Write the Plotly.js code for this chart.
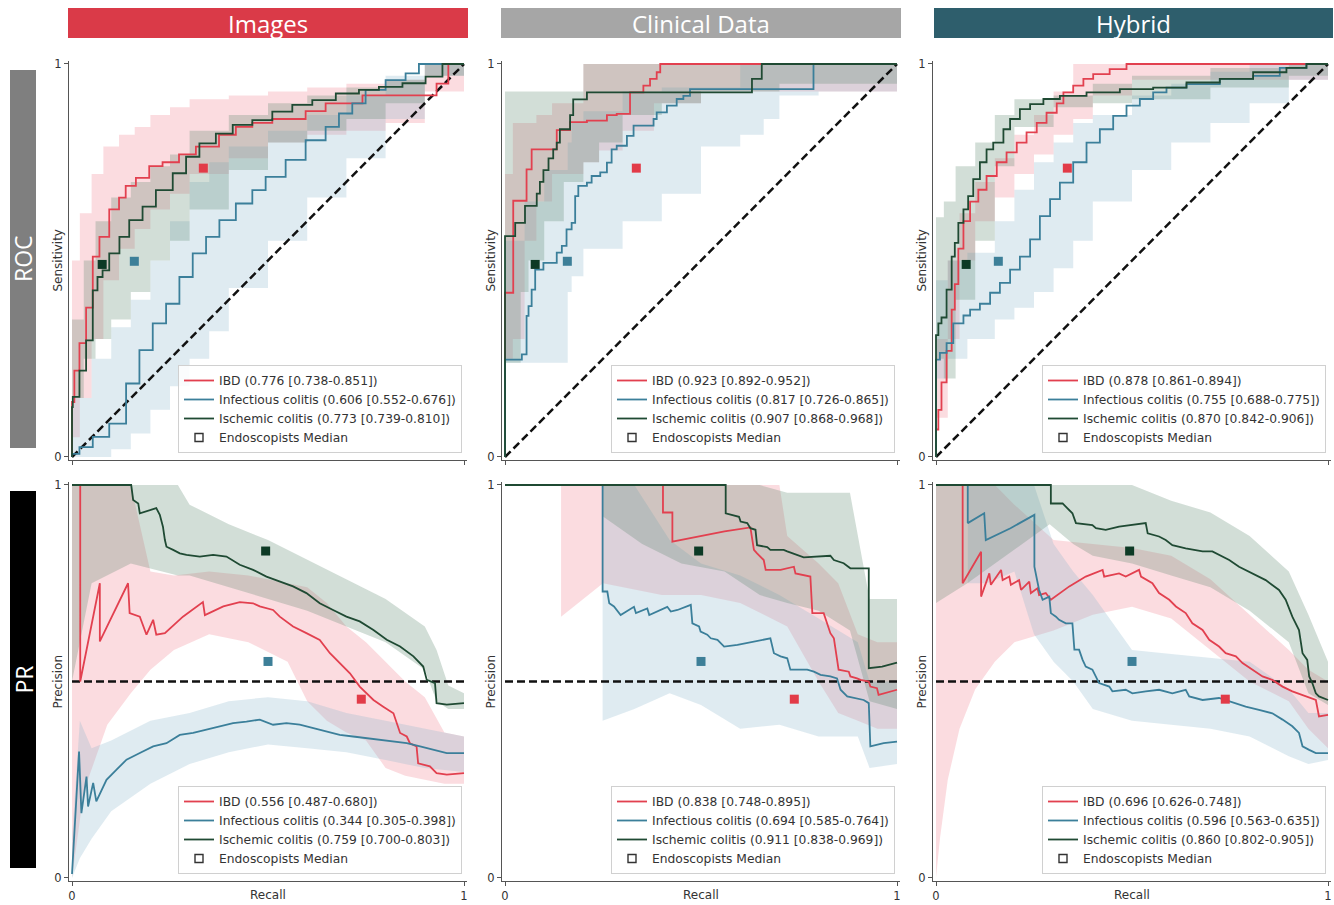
<!DOCTYPE html>
<html><head><meta charset="utf-8">
<script src="https://cdn.plot.ly/plotly-3.0.1.min.js"></script>
<style>html,body{margin:0;padding:0;background:#fff}#chart{width:1334px;height:905px}</style>
</head><body><div id="chart"></div><script>
// ---------------- DATA ----------------
const COLUMN_TITLES = ['Images', 'Clinical Data', 'Hybrid'];
const ROW_TITLES = ['ROC', 'PR'];
const CLASSES = ['IBD', 'Infectious colitis', 'Ischemic colitis'];
const ENDO_LABEL = 'Endoscopists Median';

// AUC labels per panel [IBD, Infectious, Ischemic]
const AUC_ROC_IMG = ['0.776 [0.738-0.851]', '0.606 [0.552-0.676]', '0.773 [0.739-0.810]'];
const AUC_ROC_CLI = ['0.923 [0.892-0.952]', '0.817 [0.726-0.865]', '0.907 [0.868-0.968]'];
const AUC_ROC_HYB = ['0.878 [0.861-0.894]', '0.755 [0.688-0.775]', '0.870 [0.842-0.906]'];
const AUC_PR_IMG = ['0.556 [0.487-0.680]', '0.344 [0.305-0.398]', '0.759 [0.700-0.803]'];
const AUC_PR_CLI = ['0.838 [0.748-0.895]', '0.694 [0.585-0.764]', '0.911 [0.838-0.969]'];
const AUC_PR_HYB = ['0.696 [0.626-0.748]', '0.596 [0.563-0.635]', '0.860 [0.802-0.905]'];

// Endoscopists median [IBD, Infectious, Ischemic]
const ENDO_ROC_X = [0.335, 0.159, 0.077];
const ENDO_ROC_Y = [0.735, 0.498, 0.490];
const ENDO_PR_X = [0.738, 0.500, 0.494];
const ENDO_PR_Y = [0.455, 0.551, 0.832];

// Reference lines
const ROC_CHANCE_X = [0, 1], ROC_CHANCE_Y = [0, 1];
const PR_BASE_X = [0, 1], PR_BASE_Y = [0.5, 0.5];

// ROC curves [fpr, tpr]
const ROC_IMG_IBD = [[0,0],[0.006,0.14],[0.019,0.22],[0.036,0.29],[0.053,0.38],[0.07,0.51],[0.095,0.56],[0.12,0.63],[0.137,0.66],[0.163,0.69],[0.197,0.71],[0.231,0.74],[0.273,0.75],[0.316,0.77],[0.375,0.79],[0.418,0.82],[0.46,0.84],[0.511,0.85],[0.596,0.86],[0.647,0.88],[0.741,0.90],[0.885,0.92],[0.93,0.92],[0.96,0.95],[1,1]];
const ROC_IMG_INF = [[0,0],[0.019,0.008],[0.053,0.025],[0.095,0.051],[0.138,0.085],[0.172,0.187],[0.206,0.272],[0.24,0.34],[0.274,0.39],[0.308,0.458],[0.342,0.518],[0.376,0.56],[0.418,0.603],[0.46,0.645],[0.494,0.679],[0.545,0.713],[0.596,0.756],[0.647,0.806],[0.681,0.84],[0.715,0.874],[0.749,0.90],[0.80,0.934],[0.851,0.959],[0.885,0.976],[0.919,1.0],[1,1]];
const ROC_IMG_ISC = [[0,0],[0.002,0.127],[0.019,0.153],[0.036,0.22],[0.053,0.297],[0.065,0.424],[0.078,0.458],[0.095,0.475],[0.121,0.518],[0.146,0.56],[0.18,0.603],[0.214,0.637],[0.257,0.679],[0.291,0.722],[0.325,0.764],[0.367,0.798],[0.41,0.823],[0.46,0.845],[0.511,0.857],[0.562,0.879],[0.613,0.896],[0.673,0.908],[0.732,0.925],[0.783,0.934],[0.843,0.942],[0.902,0.951],[0.945,0.968],[1,1]];

const ROC_CLI_IBD = [[0,0],[0.021,0.418],[0.055,0.652],[0.068,0.732],[0.132,0.783],[0.166,0.832],[0.209,0.852],[0.26,0.856],[0.285,0.87],[0.319,0.873],[0.353,0.928],[0.37,0.945],[0.387,0.962],[0.396,0.979],[1,1]];
const ROC_CLI_INF = [[0,0],[0.043,0.248],[0.055,0.261],[0.06,0.359],[0.068,0.384],[0.077,0.426],[0.098,0.477],[0.132,0.494],[0.145,0.52],[0.157,0.537],[0.17,0.579],[0.179,0.596],[0.187,0.664],[0.209,0.69],[0.221,0.698],[0.243,0.715],[0.26,0.724],[0.272,0.749],[0.285,0.783],[0.311,0.792],[0.328,0.817],[0.379,0.843],[0.387,0.86],[0.413,0.877],[0.438,0.894],[0.455,0.911],[0.472,0.919],[0.787,0.936],[1,1]];
const ROC_CLI_ISC = [[0,0],[0.026,0.562],[0.051,0.596],[0.081,0.639],[0.089,0.67],[0.098,0.70],[0.111,0.73],[0.123,0.76],[0.132,0.783],[0.14,0.80],[0.166,0.834],[0.174,0.87],[0.209,0.91],[0.63,0.928],[0.655,0.962],[1,1]];

const ROC_HYB_IBD = [[0,0],[0.006,0.07],[0.014,0.12],[0.027,0.19],[0.04,0.27],[0.048,0.375],[0.057,0.44],[0.07,0.53],[0.087,0.60],[0.108,0.65],[0.129,0.68],[0.155,0.715],[0.18,0.75],[0.206,0.775],[0.231,0.80],[0.257,0.826],[0.282,0.85],[0.308,0.876],[0.325,0.90],[0.35,0.928],[0.376,0.945],[0.401,0.962],[0.443,0.974],[0.486,0.987],[0.503,1],[1,1]];
const ROC_HYB_INF = [[0,0],[0.01,0.248],[0.027,0.265],[0.044,0.29],[0.07,0.34],[0.087,0.36],[0.112,0.375],[0.138,0.39],[0.163,0.418],[0.189,0.443],[0.214,0.477],[0.24,0.51],[0.265,0.554],[0.291,0.613],[0.316,0.656],[0.35,0.698],[0.384,0.75],[0.418,0.80],[0.452,0.834],[0.486,0.868],[0.52,0.894],[0.554,0.911],[0.588,0.928],[0.639,0.94],[0.724,0.949],[0.809,0.962],[0.877,0.97],[0.945,0.99],[1,1]];
const ROC_HYB_ISC = [[0,0],[0.006,0.31],[0.014,0.34],[0.027,0.355],[0.04,0.426],[0.048,0.51],[0.057,0.545],[0.07,0.596],[0.082,0.63],[0.095,0.664],[0.112,0.707],[0.129,0.75],[0.146,0.783],[0.172,0.80],[0.189,0.834],[0.214,0.86],[0.24,0.885],[0.274,0.898],[0.316,0.911],[0.384,0.919],[0.469,0.928],[0.554,0.936],[0.639,0.94],[0.724,0.953],[0.809,0.962],[0.894,0.979],[0.945,0.99],[1,1]];

// PR curves [recall, precision]
const PR_IMG_IBD = [[0,1],[0.021,1],[0.021,0.5],[0.071,0.75],[0.071,0.602],[0.143,0.75],[0.147,0.674],[0.173,0.665],[0.19,0.619],[0.207,0.657],[0.215,0.619],[0.237,0.623],[0.283,0.665],[0.334,0.702],[0.339,0.669],[0.386,0.691],[0.428,0.702],[0.462,0.699],[0.479,0.691],[0.513,0.682],[0.53,0.665],[0.564,0.64],[0.598,0.623],[0.632,0.606],[0.658,0.572],[0.683,0.547],[0.709,0.521],[0.734,0.487],[0.751,0.47],[0.769,0.453],[0.794,0.436],[0.82,0.419],[0.837,0.369],[0.854,0.36],[0.862,0.343],[0.879,0.335],[0.883,0.292],[0.913,0.284],[0.93,0.267],[0.956,0.263],[1,0.267]];
const PR_IMG_INF = [[0,0.01],[0.018,0.322],[0.024,0.165],[0.037,0.258],[0.041,0.182],[0.054,0.242],[0.062,0.195],[0.088,0.25],[0.113,0.275],[0.139,0.301],[0.173,0.318],[0.207,0.335],[0.241,0.343],[0.275,0.364],[0.309,0.369],[0.343,0.377],[0.377,0.386],[0.411,0.394],[0.445,0.398],[0.479,0.403],[0.513,0.39],[0.547,0.394],[0.581,0.39],[0.615,0.381],[0.649,0.373],[0.683,0.364],[0.717,0.36],[0.751,0.356],[0.786,0.352],[0.82,0.347],[0.854,0.343],[0.888,0.335],[0.922,0.326],[0.956,0.318],[1,0.318]];
const PR_IMG_ISC = [[0,1],[0.151,1],[0.156,0.962],[0.169,0.953],[0.173,0.928],[0.215,0.941],[0.224,0.924],[0.232,0.894],[0.237,0.86],[0.241,0.843],[0.258,0.835],[0.275,0.826],[0.292,0.822],[0.326,0.818],[0.36,0.822],[0.394,0.818],[0.428,0.797],[0.462,0.784],[0.496,0.767],[0.53,0.754],[0.564,0.742],[0.598,0.725],[0.632,0.699],[0.666,0.682],[0.70,0.665],[0.734,0.653],[0.769,0.631],[0.803,0.606],[0.837,0.589],[0.871,0.564],[0.896,0.538],[0.905,0.504],[0.926,0.496],[0.93,0.445],[0.956,0.441],[1,0.445]];

const PR_CLI_IBD = [[0,1],[0.403,1],[0.403,0.93],[0.427,0.93],[0.427,0.856],[0.50,0.87],[0.56,0.882],[0.626,0.892],[0.635,0.835],[0.643,0.826],[0.66,0.809],[0.665,0.784],[0.703,0.784],[0.737,0.792],[0.741,0.775],[0.779,0.767],[0.784,0.674],[0.813,0.674],[0.83,0.623],[0.839,0.61],[0.851,0.53],[0.877,0.525],[0.881,0.513],[0.898,0.508],[0.907,0.504],[0.928,0.50],[0.932,0.487],[0.949,0.483],[0.953,0.466],[1,0.479]];
const PR_CLI_INF = [[0,1],[0.249,1],[0.249,0.729],[0.261,0.729],[0.266,0.699],[0.278,0.691],[0.295,0.669],[0.329,0.69],[0.334,0.674],[0.363,0.686],[0.368,0.669],[0.414,0.69],[0.423,0.678],[0.44,0.682],[0.474,0.695],[0.478,0.648],[0.495,0.64],[0.499,0.627],[0.516,0.619],[0.525,0.61],[0.542,0.606],[0.559,0.589],[0.593,0.593],[0.643,0.602],[0.677,0.61],[0.686,0.572],[0.703,0.564],[0.72,0.559],[0.728,0.53],[0.771,0.53],[0.788,0.525],[0.805,0.517],[0.83,0.513],[0.847,0.508],[0.856,0.479],[0.873,0.462],[0.915,0.453],[0.928,0.445],[0.932,0.335],[0.966,0.343],[1,0.347]];
const PR_CLI_ISC = [[0,1],[0.563,1],[0.563,0.928],[0.597,0.919],[0.601,0.907],[0.618,0.903],[0.626,0.89],[0.639,0.886],[0.643,0.847],[0.669,0.842],[0.677,0.835],[0.711,0.835],[0.72,0.831],[0.745,0.822],[0.762,0.816],[0.83,0.82],[0.839,0.809],[0.864,0.801],[0.881,0.788],[0.928,0.788],[0.928,0.534],[0.962,0.538],[1,0.548]];

const PR_HYB_IBD = [[0,1],[0.068,1],[0.068,0.75],[0.115,0.83],[0.115,0.716],[0.136,0.775],[0.14,0.746],[0.166,0.784],[0.17,0.758],[0.187,0.767],[0.191,0.746],[0.212,0.758],[0.217,0.733],[0.238,0.754],[0.242,0.725],[0.259,0.737],[0.263,0.72],[0.28,0.725],[0.293,0.708],[0.34,0.742],[0.382,0.767],[0.425,0.784],[0.429,0.767],[0.467,0.775],[0.484,0.767],[0.518,0.784],[0.523,0.767],[0.552,0.75],[0.569,0.725],[0.595,0.708],[0.612,0.691],[0.637,0.674],[0.654,0.648],[0.68,0.631],[0.697,0.606],[0.722,0.589],[0.739,0.572],[0.765,0.564],[0.782,0.547],[0.807,0.53],[0.833,0.513],[0.858,0.504],[0.884,0.487],[0.909,0.475],[0.943,0.462],[0.969,0.453],[0.977,0.411],[1,0.415]];
const PR_HYB_INF = [[0,1],[0.081,1],[0.081,0.903],[0.123,0.928],[0.127,0.86],[0.19,0.89],[0.251,0.924],[0.251,0.792],[0.263,0.733],[0.272,0.708],[0.289,0.716],[0.293,0.674],[0.306,0.665],[0.314,0.657],[0.331,0.648],[0.348,0.648],[0.353,0.581],[0.365,0.581],[0.374,0.555],[0.382,0.538],[0.399,0.53],[0.416,0.496],[0.442,0.487],[0.45,0.475],[0.484,0.479],[0.501,0.47],[0.535,0.475],[0.569,0.479],[0.603,0.47],[0.637,0.479],[0.646,0.462],[0.68,0.453],[0.722,0.458],[0.765,0.445],[0.79,0.436],[0.824,0.428],[0.858,0.419],[0.884,0.403],[0.909,0.386],[0.926,0.369],[0.935,0.335],[0.952,0.326],[0.969,0.318],[1,0.318]];
const PR_HYB_ISC = [[0,1],[0.293,1],[0.293,0.953],[0.323,0.953],[0.331,0.945],[0.348,0.928],[0.357,0.903],[0.399,0.898],[0.408,0.89],[0.433,0.886],[0.467,0.894],[0.535,0.903],[0.54,0.877],[0.569,0.869],[0.586,0.86],[0.603,0.847],[0.637,0.839],[0.68,0.831],[0.705,0.831],[0.722,0.822],[0.748,0.809],[0.773,0.792],[0.807,0.775],[0.841,0.758],[0.875,0.733],[0.892,0.708],[0.909,0.665],[0.926,0.631],[0.935,0.572],[0.947,0.555],[0.952,0.513],[0.96,0.496],[0.969,0.47],[0.977,0.462],[1,0.453]];

// Confidence bands [x, lower, upper]
const ROC_IMG_IBD_BAND = [[0,0,0.35],[0.02,0.05,0.5],[0.05,0.15,0.62],[0.08,0.3,0.72],[0.12,0.45,0.79],[0.16,0.53,0.82],[0.2,0.58,0.84],[0.25,0.63,0.87],[0.3,0.67,0.89],[0.4,0.72,0.91],[0.5,0.76,0.92],[0.6,0.8,0.93],[0.7,0.82,0.94],[0.8,0.83,0.95],[0.9,0.85,0.96],[1,0.93,1]];
const ROC_IMG_INF_BAND = [[0,0,0.05],[0.05,0,0.15],[0.1,0,0.25],[0.15,0.02,0.33],[0.2,0.06,0.4],[0.25,0.12,0.5],[0.3,0.18,0.6],[0.35,0.25,0.7],[0.4,0.32,0.75],[0.5,0.43,0.79],[0.6,0.55,0.83],[0.7,0.66,0.87],[0.8,0.76,0.92],[0.9,0.86,0.97],[1,0.97,1]];
const ROC_IMG_ISC_BAND = [[0,0.05,0.2],[0.03,0.15,0.35],[0.06,0.25,0.5],[0.1,0.3,0.6],[0.15,0.35,0.66],[0.2,0.42,0.7],[0.25,0.5,0.74],[0.3,0.55,0.77],[0.4,0.63,0.83],[0.5,0.73,0.87],[0.6,0.8,0.9],[0.7,0.83,0.92],[0.8,0.86,0.94],[0.9,0.9,0.96],[1,0.97,1]];

const ROC_CLI_IBD_BAND = [[0,0.15,0.55],[0.02,0.25,0.72],[0.05,0.3,0.85],[0.08,0.55,0.85],[0.12,0.65,0.87],[0.2,0.72,0.9],[0.24,0.75,1],[0.3,0.78,1],[0.38,0.83,1],[0.5,0.9,1],[0.65,0.93,1],[1,0.93,1]];
const ROC_CLI_INF_BAND = [[0,0.24,0.3],[0.05,0.24,0.55],[0.1,0.24,0.65],[0.16,0.24,0.73],[0.17,0.42,0.8],[0.2,0.46,0.85],[0.3,0.53,0.88],[0.4,0.6,0.93],[0.5,0.67,0.94],[0.6,0.79,0.94],[0.66,0.82,1],[0.7,0.86,1],[0.8,0.92,1],[1,0.93,1]];
const ROC_CLI_ISC_BAND = [[0,0.24,0.88],[0.04,0.24,0.93],[0.06,0.42,0.93],[0.1,0.5,0.93],[0.15,0.6,0.93],[0.2,0.7,0.93],[0.24,0.75,1],[0.3,0.8,1],[0.4,0.87,1],[0.5,0.9,1],[0.7,0.93,1],[1,0.95,1]];

const ROC_HYB_IBD_BAND = [[0,0,0.1],[0.03,0.1,0.3],[0.06,0.3,0.5],[0.1,0.5,0.62],[0.15,0.6,0.7],[0.2,0.66,0.76],[0.25,0.72,0.82],[0.3,0.77,0.87],[0.35,0.82,0.93],[0.4,0.86,1],[0.5,0.92,1],[0.6,0.96,1],[1,0.96,1]];
const ROC_HYB_INF_BAND = [[0,0,0.3],[0.03,0.2,0.45],[0.08,0.25,0.5],[0.15,0.3,0.52],[0.2,0.35,0.6],[0.25,0.38,0.68],[0.3,0.42,0.75],[0.35,0.48,0.8],[0.4,0.55,0.85],[0.5,0.65,0.87],[0.6,0.73,0.92],[0.7,0.8,0.95],[0.8,0.85,0.98],[0.9,0.9,1],[1,0.96,1]];
const ROC_HYB_ISC_BAND = [[0,0,0.3],[0.02,0.25,0.61],[0.05,0.2,0.65],[0.1,0.4,0.74],[0.15,0.55,0.8],[0.2,0.74,0.87],[0.3,0.84,0.91],[0.4,0.89,0.92],[0.5,0.9,0.95],[0.7,0.91,0.97],[0.9,0.94,0.99],[1,0.97,1]];

const PR_IMG_IBD_BAND = [[0,0,1],[0.03,0.22,1],[0.09,0.39,1],[0.15,0.47,1],[0.2,0.53,0.78],[0.26,0.58,0.77],[0.35,0.62,0.78],[0.45,0.6,0.77],[0.55,0.55,0.75],[0.6,0.45,0.74],[0.65,0.4,0.7],[0.7,0.37,0.64],[0.75,0.35,0.6],[0.8,0.28,0.55],[0.85,0.26,0.5],[0.9,0.25,0.46],[0.95,0.24,0.37],[1,0.24,0.36]];
const PR_IMG_INF_BAND = [[0,0,0.1],[0.02,0.05,0.4],[0.05,0.1,0.33],[0.1,0.17,0.35],[0.2,0.24,0.4],[0.3,0.29,0.42],[0.4,0.32,0.45],[0.5,0.34,0.46],[0.6,0.33,0.45],[0.7,0.32,0.42],[0.8,0.3,0.4],[0.9,0.28,0.38],[1,0.27,0.36]];
const PR_IMG_ISC_BAND = [[0,0.5,1],[0.05,0.75,1],[0.15,0.8,1],[0.27,0.77,1],[0.3,0.77,0.95],[0.4,0.74,0.9],[0.5,0.71,0.86],[0.6,0.68,0.81],[0.7,0.64,0.76],[0.8,0.6,0.71],[0.9,0.53,0.64],[0.93,0.45,0.58],[0.96,0.43,0.49],[1,0.43,0.47]];

const PR_CLI_IBD_BAND = [[0.143,0.665,1],[0.25,0.75,1],[0.4,0.72,1],[0.5,0.72,1],[0.6,0.7,1],[0.7,0.65,1],[0.72,0.64,0.87],[0.8,0.5,0.8],[0.85,0.42,0.75],[0.9,0.4,0.62],[0.95,0.38,0.6],[1,0.38,0.6]];
const PR_CLI_INF_BAND = [[0.249,0.4,1],[0.33,0.43,1],[0.42,0.47,0.86],[0.5,0.44,0.8],[0.6,0.38,0.77],[0.7,0.39,0.72],[0.8,0.36,0.66],[0.9,0.36,0.6],[0.93,0.28,0.5],[1,0.29,0.5]];
const PR_CLI_ISC_BAND = [[0.25,0.92,1],[0.35,0.85,1],[0.45,0.8,1],[0.56,0.78,1],[0.65,0.72,1],[0.72,0.7,0.98],[0.8,0.68,0.98],[0.88,0.63,0.98],[0.93,0.45,0.71],[1,0.43,0.71]];

const PR_HYB_IBD_BAND = [[0,0,1],[0.01,0.1,1],[0.03,0.25,1],[0.06,0.38,1],[0.1,0.48,1],[0.15,0.55,1],[0.2,0.6,0.95],[0.3,0.63,0.86],[0.4,0.67,0.85],[0.5,0.69,0.84],[0.6,0.66,0.82],[0.7,0.58,0.76],[0.8,0.5,0.67],[0.9,0.45,0.58],[0.95,0.38,0.53],[1,0.33,0.5]];
const PR_HYB_INF_BAND = [[0.081,0.75,1],[0.13,0.75,1],[0.2,0.78,1],[0.25,0.62,1],[0.3,0.55,0.85],[0.35,0.5,0.78],[0.4,0.43,0.72],[0.5,0.4,0.58],[0.6,0.39,0.57],[0.7,0.38,0.56],[0.8,0.36,0.55],[0.9,0.31,0.48],[0.95,0.29,0.42],[1,0.3,0.42]];
const PR_HYB_ISC_BAND = [[0,0.7,1],[0.08,0.75,1],[0.29,0.9,1],[0.35,0.85,1],[0.4,0.82,1],[0.5,0.8,1],[0.6,0.77,0.96],[0.7,0.74,0.93],[0.8,0.68,0.87],[0.9,0.6,0.78],[0.95,0.47,0.67],[1,0.44,0.55]];

// ---------------- STYLE ----------------
const W = 1334, H = 905;
const LINE_COLORS = ['#e2404f', '#3b7f9a', '#1f4a33'];
const SQUARE_COLORS = ['#e23b48', '#3d7f98', '#0d3a25'];
const BAND_COLORS = ['rgba(240,125,140,0.27)', 'rgba(135,182,202,0.27)', 'rgba(90,132,108,0.27)'];
const HEADER_COLORS = ['#da3a48', '#a6a6a6', '#2e5e6c'];
const ROW_COLORS = ['#7f7f7f', '#000000'];
const FONT = 'DejaVu Sans, Liberation Sans, sans-serif';
const PAD = 0.008;
const COL_PX = [[72, 464], [505, 897], [936, 1328]];
const ROW_PX = [[64, 457], [485, 878]];
const HEAD_PX = [[68, 468], [501, 901], [934, 1333]];
const ROWBAR_PX = [[70, 448], [491, 868]];

const PANELS = [
  {r:0, c:0, curves:[ROC_IMG_IBD, ROC_IMG_INF, ROC_IMG_ISC], bands:[ROC_IMG_IBD_BAND, ROC_IMG_INF_BAND, ROC_IMG_ISC_BAND], auc:AUC_ROC_IMG},
  {r:0, c:1, curves:[ROC_CLI_IBD, ROC_CLI_INF, ROC_CLI_ISC], bands:[ROC_CLI_IBD_BAND, ROC_CLI_INF_BAND, ROC_CLI_ISC_BAND], auc:AUC_ROC_CLI},
  {r:0, c:2, curves:[ROC_HYB_IBD, ROC_HYB_INF, ROC_HYB_ISC], bands:[ROC_HYB_IBD_BAND, ROC_HYB_INF_BAND, ROC_HYB_ISC_BAND], auc:AUC_ROC_HYB},
  {r:1, c:0, curves:[PR_IMG_IBD, PR_IMG_INF, PR_IMG_ISC], bands:[PR_IMG_IBD_BAND, PR_IMG_INF_BAND, PR_IMG_ISC_BAND], auc:AUC_PR_IMG},
  {r:1, c:1, curves:[PR_CLI_IBD, PR_CLI_INF, PR_CLI_ISC], bands:[PR_CLI_IBD_BAND, PR_CLI_INF_BAND, PR_CLI_ISC_BAND], auc:AUC_PR_CLI},
  {r:1, c:2, curves:[PR_HYB_IBD, PR_HYB_INF, PR_HYB_ISC], bands:[PR_HYB_IBD_BAND, PR_HYB_INF_BAND, PR_HYB_ISC_BAND], auc:AUC_PR_HYB}
];

const traces = [];
const layout = {
  width: W, height: H, margin: {l:0, r:0, t:0, b:0},
  paper_bgcolor: '#ffffff', plot_bgcolor: 'rgba(0,0,0,0)',
  showlegend: true, shapes: [], annotations: [],
  font: {family: FONT, color: '#333'}
};

PANELS.forEach((p, i) => {
  const n = i + 1;
  const xa = 'x' + (n === 1 ? '' : n), ya = 'y' + (n === 1 ? '' : n);
  const xk = 'xaxis' + (n === 1 ? '' : n), yk = 'yaxis' + (n === 1 ? '' : n);
  const lg = 'legend' + (n === 1 ? '' : n);
  const isRoc = p.r === 0;
  const shape = isRoc ? 'vh' : 'linear';
  const [cx0, cx1] = COL_PX[p.c];
  const [ry0, ry1] = ROW_PX[p.r];
  const sx = cx1 - cx0, sy = ry1 - ry0;

  layout[xk] = {
    domain: [(cx0 - PAD * sx) / W, (cx1 + PAD * sx) / W],
    range: [-PAD, 1 + PAD], anchor: ya, showgrid: false, zeroline: false,
    showline: true, linecolor: '#555', linewidth: 1,
    ticks: 'outside', ticklen: 4, tickcolor: '#555', tickwidth: 1,
    tickvals: [0, 1], ticktext: ['0', '1'], showticklabels: !isRoc,
    tickfont: {family: FONT, size: 11.5, color: '#333'}, fixedrange: true
  };
  layout[yk] = {
    domain: [1 - (ry1 + PAD * sy) / H, 1 - (ry0 - PAD * sy) / H],
    range: [-PAD, 1 + PAD], anchor: xa, showgrid: false, zeroline: false,
    showline: true, linecolor: '#555', linewidth: 1,
    ticks: 'outside', ticklen: 4, tickcolor: '#555', tickwidth: 1,
    tickvals: [0, 1], ticktext: ['0', '1'],
    tickfont: {family: FONT, size: 11.5, color: '#333'}, fixedrange: true
  };

  // bands
  p.bands.forEach((b, k) => {
    traces.push({x: b.map(v => v[0]), y: b.map(v => v[1]), mode: 'lines', line: {width: 0, shape: shape},
      hoverinfo: 'skip', showlegend: false, xaxis: xa, yaxis: ya});
    traces.push({x: b.map(v => v[0]), y: b.map(v => v[2]), mode: 'lines', line: {width: 0, shape: shape},
      fill: 'tonexty', fillcolor: BAND_COLORS[k], hoverinfo: 'skip', showlegend: false, xaxis: xa, yaxis: ya});
  });

  // reference line
  traces.push({x: isRoc ? ROC_CHANCE_X : PR_BASE_X, y: isRoc ? ROC_CHANCE_Y : PR_BASE_Y, mode: 'lines',
    line: {color: '#111', width: 2.5, dash: '8px,4px'}, hoverinfo: 'skip', showlegend: false, xaxis: xa, yaxis: ya});

  // curves
  p.curves.forEach((cv, k) => {
    traces.push({x: cv.map(v => v[0]), y: cv.map(v => v[1]), mode: 'lines',
      line: {color: LINE_COLORS[k], width: 1.8, shape: shape},
      name: CLASSES[k] + ' (' + p.auc[k] + ')', legend: lg, showlegend: true,
      xaxis: xa, yaxis: ya});
  });

  // endoscopists squares
  traces.push({x: isRoc ? ENDO_ROC_X : ENDO_PR_X, y: isRoc ? ENDO_ROC_Y : ENDO_PR_Y, mode: 'markers',
    marker: {symbol: 'square', size: 9, color: SQUARE_COLORS, line: {width: 0}},
    showlegend: false, hoverinfo: 'skip', xaxis: xa, yaxis: ya, cliponaxis: false});
  // legend entry for endoscopists
  traces.push({x: [null], y: [null], mode: 'markers', name: ENDO_LABEL,
    marker: {symbol: 'square-open', size: 8, color: '#333', line: {width: 1.4, color: '#333'}},
    legend: lg, showlegend: true, xaxis: xa, yaxis: ya});

  layout[lg] = {
    x: (cx1 - 2) / W, y: 1 - (ry1 - 4) / H, xanchor: 'right', yanchor: 'bottom',
    xref: 'paper', yref: 'paper',
    bgcolor: 'rgba(255,255,255,0.85)', bordercolor: '#d0d0d0', borderwidth: 1,
    font: {family: FONT, size: 12.3, color: '#333'}, itemwidth: 30, traceorder: 'normal',
    tracegroupgap: 0
  };

  // axis titles
  layout.annotations.push({text: isRoc ? 'Sensitivity' : 'Precision', xref: 'paper', yref: 'paper',
    x: (cx0 - 15) / W, y: 1 - ((ry0 + ry1) / 2) / H, textangle: -90, showarrow: false,
    font: {family: FONT, size: 12, color: '#333'}, xanchor: 'center', yanchor: 'middle'});
  if (!isRoc) {
    layout.annotations.push({text: 'Recall', xref: 'paper', yref: 'paper',
      x: ((cx0 + cx1) / 2) / W, y: 1 - 895 / H, showarrow: false,
      font: {family: FONT, size: 12, color: '#333'}, xanchor: 'center', yanchor: 'middle'});
  }
});

// column headers
COLUMN_TITLES.forEach((t, c) => {
  const [a, b] = HEAD_PX[c];
  layout.shapes.push({type: 'rect', xref: 'paper', yref: 'paper', x0: a / W, x1: b / W,
    y0: 1 - 38 / H, y1: 1 - 8 / H, fillcolor: HEADER_COLORS[c], line: {width: 0}, layer: 'below'});
  layout.annotations.push({text: t, xref: 'paper', yref: 'paper', x: ((a + b) / 2) / W, y: 1 - 23 / H,
    showarrow: false, xanchor: 'center', yanchor: 'middle',
    font: {family: 'Open Sans, Noto Sans, sans-serif', size: 24, color: '#ffffff'}});
});
// row labels
ROW_TITLES.forEach((t, r) => {
  const [a, b] = ROWBAR_PX[r];
  layout.shapes.push({type: 'rect', xref: 'paper', yref: 'paper', x0: 10 / W, x1: 36 / W,
    y0: 1 - b / H, y1: 1 - a / H, fillcolor: ROW_COLORS[r], line: {width: 0}, layer: 'below'});
  layout.annotations.push({text: t, xref: 'paper', yref: 'paper', x: 23 / W, y: 1 - ((a + b) / 2) / H,
    showarrow: false, textangle: -90, xanchor: 'center', yanchor: 'middle',
    font: {family: 'Open Sans, Noto Sans, sans-serif', size: 23, color: '#ffffff'}});
});

Plotly.newPlot('chart', traces, layout, {displayModeBar: false, staticPlot: true});
</script></body></html>
